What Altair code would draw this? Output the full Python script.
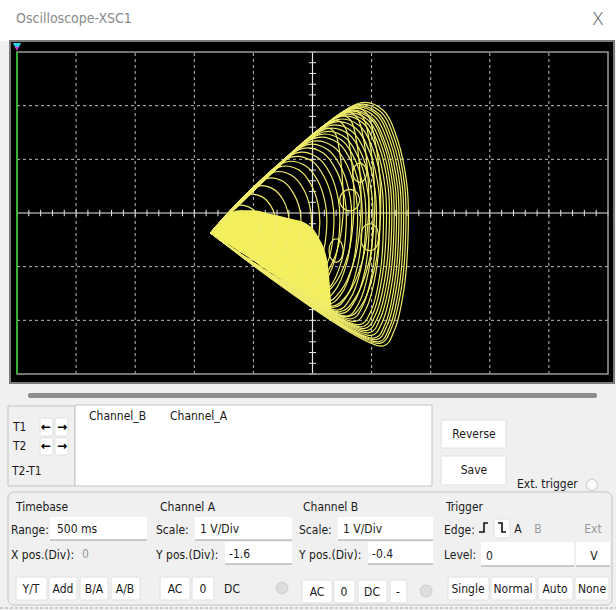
import altair as alt
import pandas as pd

W, H = 616, 610
FONT = "DejaVu Sans Condensed, Roboto, sans-serif"

# ---------------------------------------------------------------
# Trace on the screen, in screen divisions (1 V/Div on both channels).
# Each loop leaves the apex, runs up the upper flank, bends round on
# the right and comes back along the lower flank to the apex.
# ---------------------------------------------------------------
APEX_X, APEX_Y = -1.72, -0.37

LOOP_X = [
    [0.80, 1.19, 1.44, 1.60, 1.62, 1.55, 1.38, 1.19],
    [0.76, 1.15, 1.40, 1.56, 1.58, 1.51, 1.33, 1.14],
    [0.72, 1.11, 1.36, 1.52, 1.54, 1.47, 1.30, 1.12],
    [0.70, 1.08, 1.32, 1.48, 1.50, 1.43, 1.26, 1.08],
    [0.66, 1.04, 1.28, 1.44, 1.46, 1.39, 1.23, 1.05],
    [0.62, 1.00, 1.24, 1.40, 1.42, 1.35, 1.18, 1.00],
    [0.60, 0.97, 1.21, 1.36, 1.38, 1.31, 1.14, 0.96],
    [0.56, 0.93, 1.17, 1.32, 1.34, 1.27, 1.10, 0.92],
    [0.52, 0.89, 1.13, 1.28, 1.30, 1.23, 1.06, 0.88],
    [0.48, 0.85, 1.08, 1.23, 1.25, 1.18, 1.02, 0.84],
    [0.42, 0.79, 1.03, 1.18, 1.20, 1.14, 0.98, 0.80],
    [0.36, 0.73, 0.97, 1.12, 1.14, 1.07, 0.90, 0.72],
    [0.30, 0.67, 0.91, 1.06, 1.08, 1.01, 0.84, 0.66],
    [0.24, 0.61, 0.85, 1.00, 1.02, 0.95, 0.77, 0.58],
    [0.18, 0.55, 0.79, 0.94, 0.96, 0.89, 0.70, 0.50],
    [0.12, 0.49, 0.73, 0.88, 0.90, 0.82, 0.63, 0.42],
    [0.05, 0.43, 0.67, 0.82, 0.84, 0.76, 0.57, 0.35],
    [-0.02, 0.35, 0.59, 0.74, 0.76, 0.68, 0.48, 0.26],
    [-0.10, 0.26, 0.49, 0.64, 0.66, 0.58, 0.37, 0.15],
    [-0.18, 0.18, 0.41, 0.55, 0.57, 0.49, 0.28, 0.05],
    [-0.27, 0.08, 0.30, 0.44, 0.46, 0.38, 0.17, -0.05],
    [-0.36, -0.01, 0.20, 0.34, 0.36, 0.28, 0.07, -0.15],
    [-0.45, -0.12, 0.09, 0.22, 0.24, 0.16, -0.05, -0.27],
    [-0.55, -0.23, -0.03, 0.10, 0.12, 0.04, -0.16, -0.38],
    [-0.65, -0.35, -0.16, -0.04, -0.02, -0.10, -0.29, -0.50],
    [-0.78, -0.50, -0.33, -0.21, -0.20, -0.27, -0.45, -0.65],
    [-0.92, -0.67, -0.51, -0.41, -0.40, -0.46, -0.63, -0.82],
    [-1.07, -0.85, -0.72, -0.63, -0.62, -0.68, -0.82, -1.00],
    [-1.25, -1.07, -0.96, -0.89, -0.88, -0.93, -1.05, -1.20],
    # narrower loops that still start high on the upper flank
    [0.70, 0.92, 1.05, 1.14, 1.15, 1.06, 0.84, 0.60],
    [0.64, 0.84, 0.96, 1.04, 1.05, 0.95, 0.71, 0.45],
    [0.58, 0.76, 0.87, 0.94, 0.95, 0.85, 0.59, 0.30],
    [0.50, 0.65, 0.75, 0.81, 0.82, 0.72, 0.47, 0.20],
    [0.40, 0.54, 0.63, 0.69, 0.70, 0.60, 0.34, 0.05],
    [0.25, 0.38, 0.46, 0.51, 0.52, 0.41, 0.14, -0.15],
]
LOOP_Y = [
    [2.05, 1.92, 1.36, 0.50, -0.30, -1.40, -2.20, -2.48],
    [2.02, 1.89, 1.35, 0.51, -0.29, -1.36, -2.16, -2.43],
    [1.99, 1.86, 1.33, 0.50, -0.29, -1.35, -2.14, -2.40],
    [1.97, 1.84, 1.32, 0.50, -0.28, -1.32, -2.10, -2.36],
    [1.94, 1.81, 1.30, 0.49, -0.28, -1.31, -2.07, -2.33],
    [1.91, 1.78, 1.28, 0.49, -0.27, -1.27, -2.03, -2.28],
    [1.89, 1.77, 1.27, 0.49, -0.25, -1.24, -1.98, -2.23],
    [1.86, 1.74, 1.25, 0.48, -0.25, -1.22, -1.95, -2.19],
    [1.83, 1.71, 1.23, 0.48, -0.24, -1.19, -1.91, -2.15],
    [1.80, 1.68, 1.21, 0.47, -0.24, -1.18, -1.88, -2.12],
    [1.74, 1.63, 1.17, 0.44, -0.25, -1.16, -1.85, -2.08],
    [1.69, 1.58, 1.13, 0.43, -0.24, -1.13, -1.80, -2.02],
    [1.63, 1.52, 1.09, 0.41, -0.24, -1.11, -1.75, -1.97],
    [1.57, 1.47, 1.05, 0.38, -0.24, -1.08, -1.71, -1.92],
    [1.51, 1.41, 1.00, 0.36, -0.25, -1.06, -1.67, -1.87],
    [1.46, 1.36, 0.97, 0.35, -0.24, -1.03, -1.61, -1.81],
    [1.40, 1.31, 0.93, 0.33, -0.24, -1.00, -1.57, -1.76],
    [1.33, 1.24, 0.88, 0.30, -0.25, -0.97, -1.52, -1.70],
    [1.27, 1.18, 0.84, 0.28, -0.24, -0.93, -1.46, -1.63],
    [1.20, 1.12, 0.78, 0.26, -0.24, -0.90, -1.40, -1.57],
    [1.12, 1.04, 0.73, 0.23, -0.24, -0.87, -1.34, -1.50],
    [1.04, 0.97, 0.67, 0.20, -0.25, -0.84, -1.29, -1.44],
    [0.95, 0.88, 0.60, 0.16, -0.26, -0.81, -1.23, -1.37],
    [0.86, 0.80, 0.54, 0.13, -0.26, -0.78, -1.17, -1.30],
    [0.76, 0.70, 0.46, 0.09, -0.27, -0.74, -1.10, -1.22],
    [0.64, 0.59, 0.38, 0.04, -0.28, -0.70, -1.01, -1.12],
    [0.50, 0.45, 0.27, -0.01, -0.29, -0.65, -0.92, -1.01],
    [0.34, 0.30, 0.16, -0.07, -0.29, -0.59, -0.81, -0.88],
    [0.14, 0.11, 0.01, -0.16, -0.31, -0.52, -0.68, -0.73],
    [1.97, 1.85, 1.39, 0.64, -0.06, -0.99, -1.70, -1.93],
    [1.92, 1.81, 1.36, 0.64, -0.04, -0.94, -1.61, -1.84],
    [1.88, 1.77, 1.34, 0.65, 0.00, -0.87, -1.52, -1.74],
    [1.82, 1.72, 1.30, 0.63, 0.01, -0.83, -1.46, -1.67],
    [1.72, 1.62, 1.23, 0.60, 0.01, -0.78, -1.37, -1.57],
    [1.58, 1.49, 1.13, 0.55, 0.01, -0.72, -1.26, -1.44],
]

# small closed swirls inside the fan
SWIRL_X = [
    [0.80, 0.75, 0.63, 0.51, 0.46, 0.51, 0.63, 0.75, 0.80],
    [1.12, 1.08, 0.97, 0.86, 0.82, 0.86, 0.97, 1.08, 1.12],
    [0.52, 0.48, 0.40, 0.32, 0.28, 0.32, 0.40, 0.48, 0.52],
    [0.92, 0.88, 0.80, 0.72, 0.68, 0.72, 0.80, 0.88, 0.92],
]
SWIRL_Y = [
    [0.24, 0.38, 0.44, 0.38, 0.24, 0.10, 0.04, 0.10, 0.24],
    [-0.45, -0.27, -0.20, -0.27, -0.45, -0.63, -0.70, -0.63, -0.45],
    [-0.70, -0.54, -0.48, -0.54, -0.70, -0.86, -0.92, -0.86, -0.70],
    [0.75, 0.88, 0.93, 0.88, 0.75, 0.62, 0.57, 0.62, 0.75],
]

# densely written core next to the apex
CORE_X = [-1.72, -1.50, -1.25, -1.00, -0.70, -0.40, -0.10, 0.10, 0.25, 0.32]
CORE_TOP = [-0.37, -0.10, 0.05, 0.05, -0.02, -0.10, -0.20, -0.45, -0.90, -1.75]
CORE_BOTTOM = [-0.37, -0.53, -0.71, -0.89, -1.12, -1.33, -1.55, -1.69, -1.80, -1.85]

GRID_X = [-4, -3, -2, -1, 1, 2, 3, 4]
GRID_Y = [-2, -1, 1, 2]

# ---------------------------------------------------------------
# scales: pixel space for the window, division space for the screen
# ---------------------------------------------------------------
CX, CY, DIV_W, DIV_H = 312.5, 213.0, 59.1, 53.67
XD = alt.Scale(domain=[(0 - CX) / DIV_W, (W - CX) / DIV_W], nice=False, zero=False)
YD = alt.Scale(domain=[(CY - H) / DIV_H, CY / DIV_H], nice=False, zero=False)
XP = alt.Scale(domain=[0, W], nice=False, zero=False)
YP = alt.Scale(domain=[0, H], reverse=True, nice=False, zero=False)


def xd(f="x"):
    return alt.X(f"{f}:Q", scale=XD, axis=None)


def yd(f="y"):
    return alt.Y(f"{f}:Q", scale=YD, axis=None)


def xp(f="x"):
    return alt.X(f"{f}:Q", scale=XP, axis=None)


def yp(f="y"):
    return alt.Y(f"{f}:Q", scale=YP, axis=None)


# ---------------- window chrome ----------------
panels = pd.DataFrame([
    dict(x=0, x2=616, y=0, y2=610, fill="#f0f0f0", stroke="#f0f0f0", sw=0),
    dict(x=0, x2=616, y=0, y2=41, fill="#ffffff", stroke="#ffffff", sw=0),
    dict(x=10, x2=614, y=41, y2=383, fill="#000000", stroke="#7a7a7a", sw=2),
    dict(x=8, x2=75, y=406, y2=486, fill="#f0f0f0", stroke="#c4c4c4", sw=1),
    dict(x=75, x2=432, y=405, y2=486, fill="#ffffff", stroke="#c4c4c4", sw=1),
])
panel_layer = alt.Chart(panels).mark_rect().encode(
    x=xp("x"), x2="x2", y=yp("y"), y2="y2",
    fill=alt.Fill("fill:N", scale=None),
    stroke=alt.Stroke("stroke:N", scale=None),
    strokeWidth=alt.StrokeWidth("sw:Q", scale=None),
)

slider = alt.Chart(pd.DataFrame([dict(x=28, x2=597, y=393, y2=398)])).mark_rect(
    color="#8e8e8e", cornerRadius=2).encode(x=xp("x"), x2="x2", y=yp("y"), y2="y2")

group_box = alt.Chart(pd.DataFrame([dict(x=8, x2=612, y=492, y2=605)])).mark_rect(
    fill="#f0f0f0", stroke="#c4c4c4", strokeWidth=1, cornerRadius=6
).encode(x=xp("x"), x2="x2", y=yp("y"), y2="y2")

fields = pd.DataFrame([
    dict(x=50, x2=147, y=517, y2=540),
    dict(x=195, x2=292, y=517, y2=540),
    dict(x=225, x2=292, y=542, y2=564),
    dict(x=338, x2=433, y=517, y2=540),
    dict(x=368, x2=433, y=542, y2=564),
    dict(x=481, x2=574, y=542, y2=566),
    dict(x=576, x2=610, y=542, y2=566),
])
field_layer = alt.Chart(fields).mark_rect(fill="#ffffff").encode(
    x=xp("x"), x2="x2", y=yp("y"), y2="y2")
field_line = alt.Chart(fields).mark_rule(color="#9c9c9c", strokeWidth=1).encode(
    x=xp("x"), x2="x2", y=yp("y2"))

buttons = pd.DataFrame([
    dict(x=40, x2=53, y=418, y2=436), dict(x=55, x2=68, y=418, y2=436),
    dict(x=40, x2=53, y=438, y2=455), dict(x=55, x2=68, y=438, y2=455),
    dict(x=441, x2=506, y=420, y2=448), dict(x=441, x2=506, y=456, y2=485),
    dict(x=494, x2=510, y=519, y2=538),
    dict(x=16, x2=47, y=577, y2=600), dict(x=49, x2=77, y=577, y2=600),
    dict(x=80, x2=108, y=577, y2=600), dict(x=111, x2=140, y=577, y2=600),
    dict(x=160, x2=190, y=577, y2=600), dict(x=192, x2=214, y=577, y2=600),
    dict(x=302, x2=332, y=580, y2=603), dict(x=334, x2=355, y=580, y2=603),
    dict(x=358, x2=387, y=580, y2=603), dict(x=390, x2=407, y=580, y2=603),
    dict(x=448, x2=489, y=577, y2=600), dict(x=491, x2=536, y=577, y2=600),
    dict(x=538, x2=573, y=577, y2=600), dict(x=575, x2=609, y=577, y2=600),
])
button_layer = alt.Chart(buttons).mark_rect(
    fill="#ffffff", stroke="#e0e0e0", strokeWidth=1, cornerRadius=2
).encode(x=xp("x"), x2="x2", y=yp("y"), y2="y2")

knobs = pd.DataFrame([
    dict(x=282, y=588, fill="#d6d6d6", stroke="#c8c8c8"),
    dict(x=426, y=591, fill="#d6d6d6", stroke="#c8c8c8"),
    dict(x=592, y=485, fill="#ffffff", stroke="#cccccc"),
])
knob_layer = alt.Chart(knobs).mark_point(filled=True, size=130, strokeWidth=1.5).encode(
    x=xp("x"), y=yp("y"),
    fill=alt.Fill("fill:N", scale=None), stroke=alt.Stroke("stroke:N", scale=None))

bottom_edge = alt.Chart(pd.DataFrame([dict(x=0, x2=616, y=608)])).mark_rule(
    color="#a8a8a8", strokeDash=[3, 2]).encode(x=xp("x"), x2="x2", y=yp("y"))

# trigger edge icons (rising / falling)
edges = pd.DataFrame([
    dict(k="r", i=0, x=479, y=532), dict(k="r", i=1, x=484, y=532),
    dict(k="r", i=2, x=484, y=523), dict(k="r", i=3, x=488, y=523),
    dict(k="f", i=0, x=498, y=523), dict(k="f", i=1, x=502, y=523),
    dict(k="f", i=2, x=502, y=532), dict(k="f", i=3, x=506, y=532),
])
edge_layer = alt.Chart(edges).mark_line(color="#111111", strokeWidth=1.6).encode(
    x=xp("x"), y=yp("y"), detail="k:N", order="i:Q")

# ---------------- texts ----------------
BLACK, GREY = "#1a1a1a", "#9a9a9a"
S = 12
labels = pd.DataFrame([
    dict(t="Oscilloscope-XSC1", x=16, y=19, s=14, c="#8a8a8a", a="left"),
    dict(t="T1", x=13, y=427, s=S, c=BLACK, a="left"),
    dict(t="T2", x=13, y=446, s=S, c=BLACK, a="left"),
    dict(t="T2-T1", x=12, y=471, s=S, c=BLACK, a="left"),
    dict(t="Channel_B", x=89, y=416, s=S, c=BLACK, a="left"),
    dict(t="Channel_A", x=170, y=416, s=S, c=BLACK, a="left"),
    dict(t="Reverse", x=474, y=434, s=S, c=BLACK, a="center"),
    dict(t="Save", x=474, y=470, s=S, c=BLACK, a="center"),
    dict(t="Ext. trigger", x=517, y=484, s=S, c=BLACK, a="left"),
    dict(t="Timebase", x=16, y=507, s=S, c=BLACK, a="left"),
    dict(t="Range:", x=11, y=530, s=S, c=BLACK, a="left"),
    dict(t="500 ms", x=57, y=529, s=S, c=BLACK, a="left"),
    dict(t="X pos.(Div):", x=11, y=555, s=S, c=BLACK, a="left"),
    dict(t="0", x=82, y=554, s=S, c=GREY, a="left"),
    dict(t="Y/T", x=31, y=589, s=S, c=BLACK, a="center"),
    dict(t="Add", x=63, y=589, s=S, c=BLACK, a="center"),
    dict(t="B/A", x=94, y=589, s=S, c=BLACK, a="center"),
    dict(t="A/B", x=125, y=589, s=S, c=BLACK, a="center"),
    dict(t="Channel A", x=160, y=507, s=S, c=BLACK, a="left"),
    dict(t="Scale:", x=156, y=530, s=S, c=BLACK, a="left"),
    dict(t="1  V/Div", x=200, y=529, s=S, c=BLACK, a="left"),
    dict(t="Y pos.(Div):", x=156, y=555, s=S, c=BLACK, a="left"),
    dict(t="-1.6", x=229, y=554, s=S, c=BLACK, a="left"),
    dict(t="AC", x=175, y=589, s=S, c=BLACK, a="center"),
    dict(t="0", x=203, y=589, s=S, c=BLACK, a="center"),
    dict(t="DC", x=232, y=589, s=S, c=BLACK, a="center"),
    dict(t="Channel B", x=303, y=507, s=S, c=BLACK, a="left"),
    dict(t="Scale:", x=299, y=530, s=S, c=BLACK, a="left"),
    dict(t="1  V/Div", x=343, y=529, s=S, c=BLACK, a="left"),
    dict(t="Y pos.(Div):", x=299, y=555, s=S, c=BLACK, a="left"),
    dict(t="-0.4", x=372, y=554, s=S, c=BLACK, a="left"),
    dict(t="AC", x=317, y=592, s=S, c=BLACK, a="center"),
    dict(t="0", x=344, y=592, s=S, c=BLACK, a="center"),
    dict(t="DC", x=372, y=592, s=S, c=BLACK, a="center"),
    dict(t="-", x=398, y=592, s=S, c=BLACK, a="center"),
    dict(t="Trigger", x=446, y=507, s=S, c=BLACK, a="left"),
    dict(t="Edge:", x=444, y=530, s=S, c=BLACK, a="left"),
    dict(t="A", x=518, y=529, s=S, c=BLACK, a="center"),
    dict(t="B", x=538, y=529, s=S, c=GREY, a="center"),
    dict(t="Ext", x=593, y=529, s=S, c=GREY, a="center"),
    dict(t="Level:", x=444, y=555, s=S, c=BLACK, a="left"),
    dict(t="0", x=486, y=556, s=S, c=BLACK, a="left"),
    dict(t="V", x=594, y=556, s=S, c=BLACK, a="center"),
    dict(t="Single", x=468, y=589, s=S, c=BLACK, a="center"),
    dict(t="Normal", x=513, y=589, s=S, c=BLACK, a="center"),
    dict(t="Auto", x=555, y=589, s=S, c=BLACK, a="center"),
    dict(t="None", x=592, y=589, s=S, c=BLACK, a="center"),
])


def text_layer(df, align):
    return alt.Chart(df[df.a == align]).mark_text(
        align=align, baseline="middle", font=FONT
    ).encode(
        x=xp("x"), y=yp("y"), text="t:N",
        color=alt.Color("c:N", scale=None),
        size=alt.Size("s:Q", scale=None),
    )


close_x = alt.Chart(pd.DataFrame([dict(t="X", x=598, y=19)])).mark_text(
    font="Noto Sans", fontSize=19, fontWeight=300, color="#6e6e6e",
    align="center", baseline="middle"
).encode(x=xp("x"), y=yp("y"), text="t:N")

arrows = pd.DataFrame([
    dict(t="\u2190", x=46, y=427), dict(t="\u2192", x=62, y=427),
    dict(t="\u2190", x=46, y=446), dict(t="\u2192", x=62, y=446),
])
arrow_layer = alt.Chart(arrows).mark_text(
    font="DejaVu Sans", fontSize=12, fontWeight="bold", color="#000000",
    align="center", baseline="middle"
).encode(x=xp("x"), y=yp("y"), text="t:N")

# ---------------- screen ----------------
grid_v = alt.Chart(pd.DataFrame({"x": GRID_X, "y": -3, "y2": 3})).mark_rule(
    color="#bdbdbd", strokeDash=[3, 3], strokeWidth=1
).encode(x=xd("x"), y=yd("y"), y2="y2")
grid_h = alt.Chart(pd.DataFrame({"y": GRID_Y, "x": -5, "x2": 5})).mark_rule(
    color="#bdbdbd", strokeDash=[3, 3], strokeWidth=1
).encode(y=yd("y"), x=xd("x"), x2="x2")

centre = pd.DataFrame([
    dict(x=0, x2=0, y=-3, y2=3), dict(x=-5, x2=5, y=0, y2=0),
])
centre_layer = alt.Chart(centre).mark_rule(color="#e6e6e6", strokeWidth=1.2).encode(
    x=xd("x"), x2="x2", y=yd("y"), y2="y2")

ticks_h = pd.DataFrame({"x": [i / 5 for i in range(-25, 26)]})
ticks_v = pd.DataFrame({"y": [i / 5 for i in range(-15, 16)]})
tick_h_layer = alt.Chart(ticks_h).transform_calculate(
    y="-0.06", y2="0.06").mark_rule(color="#e6e6e6").encode(
    x=xd("x"), y=yd("y"), y2="y2")
tick_v_layer = alt.Chart(ticks_v).transform_calculate(
    x="-0.06", x2="0.06").mark_rule(color="#e6e6e6").encode(
    y=yd("y"), x=xd("x"), x2="x2")

frame = alt.Chart(pd.DataFrame([dict(x=-5, x2=5, y=-3, y2=3)])).mark_rect(
    fill=None, stroke="#9a9a9a", strokeWidth=1.5
).encode(x=xd("x"), x2="x2", y=yd("y"), y2="y2")

cursor = alt.Chart(pd.DataFrame([dict(x=-5, y=-3, y2=3.0)])).mark_rule(
    color="#22c322", strokeWidth=1.5).encode(x=xd("x"), y=yd("y"), y2="y2")

markers = pd.DataFrame([
    dict(x=-5, y=3.10, c="#2bd3e8", s=70),
    dict(x=-5, y=3.06, c="#d42bd4", s=22),
])
marker_layer = alt.Chart(markers).mark_point(
    shape="triangle-down", filled=True, opacity=1
).encode(x=xd("x"), y=yd("y"), color=alt.Color("c:N", scale=None),
         size=alt.Size("s:Q", scale=None))

core = pd.DataFrame({"x": CORE_X, "y": CORE_TOP, "y2": CORE_BOTTOM})
core_layer = alt.Chart(core).mark_area(
    color="#f4ef5c", opacity=1, interpolate="monotone"
).encode(x=xd("x"), y=yd("y"), y2="y2")

rows = []
for k, (xs, ys) in enumerate(zip(LOOP_X, LOOP_Y)):
    pts = [(APEX_X, APEX_Y)] + list(zip(xs, ys)) + [(APEX_X, APEX_Y)]
    for i, (px, py) in enumerate(pts):
        rows.append(dict(loop=k, i=i, x=px, y=py))
for k, (xs, ys) in enumerate(zip(SWIRL_X, SWIRL_Y)):
    for i, (px, py) in enumerate(zip(xs, ys)):
        rows.append(dict(loop=100 + k, i=i, x=px, y=py))
loops = pd.DataFrame(rows)
loop_layer = alt.Chart(loops).mark_line(
    color="#f0ec6c", strokeWidth=1.2, interpolate="catmull-rom"
).encode(x=xd("x"), y=yd("y"), detail="loop:N", order="i:Q")

chart = alt.layer(
    panel_layer, slider, group_box, field_layer, field_line, button_layer,
    knob_layer, bottom_edge, edge_layer,
    text_layer(labels, "left"), text_layer(labels, "center"), close_x, arrow_layer,
    grid_v, grid_h, centre_layer, tick_h_layer, tick_v_layer, frame,
    core_layer, loop_layer, cursor, marker_layer,
).resolve_scale(x="independent", y="independent").properties(
    width=W, height=H, padding=0, autosize=alt.AutoSizeParams(type="none"),
    background="#f0f0f0",
).configure_view(stroke=None)

chart.save("out.html", embed_options={"renderer": "svg", "actions": False})
